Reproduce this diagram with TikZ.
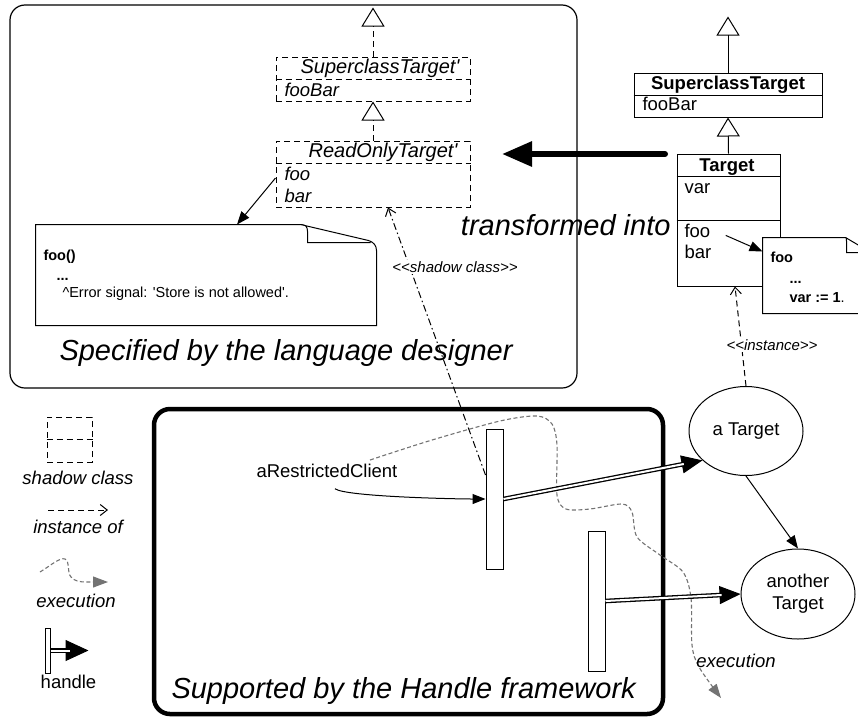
\documentclass[tikz,border=0pt]{standalone}
\usepackage{fontspec}
\setmainfont{Liberation Sans}[Ligatures=TeXOff]
\usetikzlibrary{arrows.meta}
\usetikzlibrary{shapes.geometric}

\begin{document}
\begin{tikzpicture}[x=1pt,y=-1pt,line width=1pt,
    shadowbox/.style={draw,dash pattern=on 6pt off 4pt,inner sep=0pt},
    classbox/.style={draw,inner sep=0pt},
    notebox/.style={inner sep=0pt},
    handlebox/.style={draw,fill=white,inner sep=0pt,minimum width=17pt,minimum height=140pt},
    objnode/.style={draw,ellipse,inner sep=0pt,minimum width=114pt,minimum height=89pt,align=center,font=\fontsize{18.5}{22}\selectfont},
    lbl/.style={inner sep=0pt,font=\fontsize{18.5}{22}\selectfont},
    ilbl/.style={inner sep=0pt,font=\fontsize{18.5}{22}\selectfont\itshape},
    blbl/.style={inner sep=0pt,font=\fontsize{18.5}{22}\selectfont\bfseries},
    shtitle/.style={inner sep=0pt,font=\fontsize{20}{24}\selectfont\itshape},
    small/.style={inner sep=0pt,font=\fontsize{14.5}{17}\selectfont},
    smallb/.style={inner sep=0pt,font=\fontsize{14.5}{17}\selectfont\bfseries},
    stereo/.style={inner sep=1.5pt,fill=white,font=\fontsize{15}{18}\selectfont\itshape},
    title/.style={inner sep=0pt,font=\fontsize{29}{34}\selectfont\itshape},
    generalize/.style={-{Triangle[open,length=19pt,width=23pt]}},
    instof/.style={dash pattern=on 6pt off 4pt,-{Straight Barb[length=7pt,width=11pt]}},
    execpath/.style={black!55,line width=1.1pt,dash pattern=on 4pt off 2.5pt,-{Triangle[length=14pt,width=10pt]}},
    handlearrow/.style={-{Triangle[length=21pt,width=18pt]},
        postaction={draw,-,double,double distance=2pt,line width=1.3pt,shorten >=19pt}},
    msg/.style={-{Triangle[length=13pt,width=10pt]}}]
\useasboundingbox (0,0) rectangle (858,718);

\draw[line width=1.2pt,rounded corners=15pt] (10,5) rectangle (577,388);
\node[title,anchor=base west] (langtitle) at (59,360) {Specified by the language designer};
\draw[line width=4.5pt,rounded corners=16pt] (154,409) rectangle (663,714);
\node[title,anchor=base west] (hdltitle) at (171,698) {Supported by the Handle framework};

\node[shadowbox,minimum width=194pt,minimum height=44pt] (shsup) at (373,79) {};
\draw[dash pattern=on 6pt off 4pt] (shsup.west) -- (shsup.east);
\node[shtitle,anchor=base] (shsupname) at (380,73) {SuperclassTarget'};
\node[ilbl,anchor=base west] (shfoobar) at (284,96) {fooBar};
\node[shadowbox,minimum width=194pt,minimum height=66pt] (shro) at (373,174) {};
\draw[dash pattern=on 6pt off 4pt] ([yshift=11pt]shro.west) -- ([yshift=11pt]shro.east);
\node[shtitle,anchor=base] (shroname) at (383,157) {ReadOnlyTarget'};
\node[ilbl,anchor=base west] (shfoo) at (284,180) {foo};
\node[ilbl,anchor=base west] (shbar) at (284,202) {bar};
\draw[dash pattern=on 6pt off 4pt,generalize] (shsup.north) -- ++(0,-49);
\draw[dash pattern=on 6pt off 4pt,generalize] (shro.north) -- (shsup.south);

\node[notebox,minimum width=340pt,minimum height=100pt] (errnote) at (206,275) {};
\draw[shift={(errnote.north east)}] (-76,0) -- (-8,16) .. controls (-3,17.5) and (0,21) .. (0,26)
    -- (errnote.south east) -- (errnote.south west) -- (errnote.north west) -- (-76,0)
    .. controls (-71,0) and (-69,2) .. (-69,7) -- (-69,18) -- (-6,18);
\node[smallb,anchor=base west] (errfoo) at (43,260) {foo()};
\node[smallb,anchor=base west] (errdots) at (56,280) {...};
\node[small,anchor=base west] (errmsg) at (62,297) {\textasciicircum Error signal: 'Store is not allowed'.};
\draw[msg] ([yshift=-4pt]shro.west) -- ([xshift=31pt]errnote.north);

\node[classbox,minimum width=188pt,minimum height=44pt] (sup) at (728,95) {};
\draw (sup.west) -- (sup.east);
\node[blbl,anchor=base] (supname) at (728,89) {SuperclassTarget};
\node[lbl,anchor=base west] (supfoobar) at (642,110) {fooBar};
\node[classbox,minimum width=103pt,minimum height=132pt] (tgt) at (728.5,220) {};
\draw ([yshift=44pt]tgt.west) -- ([yshift=44pt]tgt.east);
\draw (tgt.west) -- (tgt.east);
\node[blbl,anchor=base] (tgtname) at (727,171) {Target};
\node[lbl,anchor=base west] (tvar) at (684,193) {var};
\node[lbl,anchor=base west] (tfoo) at (684,237) {foo};
\node[lbl,anchor=base west] (tbar) at (684,258) {bar};
\draw[generalize] (sup.north) -- ++(0,-56);
\draw[generalize] (tgt.north) -- (sup.south);

\node[notebox,minimum width=112pt,minimum height=75pt] (foonote) at (819,275.5) {};
\filldraw[fill=white,shift={(foonote.north east)}] (-30,0) -- (-8,13) .. controls (-3,15) and (0,17) .. (0,21)
    -- (foonote.south east) -- (foonote.south west) -- (foonote.north west) -- cycle;
\draw[shift={(foonote.north east)}] (-30,0) .. controls (-29,0) and (-29,1) .. (-29,4) -- (-29,15) -- (-6,15);
\node[smallb,anchor=base west] (nfoo) at (770,262) {foo};
\node[smallb,anchor=base west] (ndots) at (789,283) {...};
\node[smallb,anchor=base west] (nvar) at (789,302) {var := 1\textmd{.}};
\draw[msg] ([xshift=15pt,yshift=-5pt]tfoo.east) -- ([yshift=-14pt]foonote.north west);

\coordinate (xfrom) at (665,154);
\coordinate (xto) at (502,154);
\draw[line width=6pt,line cap=round,-{Triangle[length=30pt,width=24pt]}] (xfrom) -- (xto);
\node[title,anchor=base east] (xlabel) at (671,235) {transformed into};

\node[objnode] (atgt) at (746,431) {a Target};
\node[objnode,minimum height=90pt] (another) at (798,594) {another\\Target};
\draw[instof] (atgt.north) -- ([xshift=6.5pt]tgt.south);
\node[stereo] (instlbl) at (772,345) {<<instance>>};
\draw[msg] (atgt.south) -- (another.north);

\node[handlebox] (hdlA) at (494.5,499) {};
\node[handlebox] (hdlB) at (596.5,601) {};
\node[lbl,anchor=base west] (client) at (256,477) {aRestrictedClient};
\coordinate (execA) at (370,460);
\coordinate (execB) at (721,698);
\draw[execpath] plot[smooth,tension=0.5] coordinates {(execA) (432,440) (500,421) (537,416) (552,424) (557,445) (557,495) (566,509) (590,509) (622,504) (632,512) (637,537) (660,555) (683,572) (691,598) (692,645) (699,667) (execB)};
\node[ilbl,anchor=base] (execlbl) at (736,667) {execution};
\draw[dash pattern=on 7pt off 3pt on 1.5pt off 3pt,-{Straight Barb[length=7pt,width=11pt]}] ([yshift=24pt]hdlA.west) -- ([xshift=15pt]shro.south);
\node[stereo] (shlbl) at (455,267) {<<shadow class>>};
\draw[msg] ([xshift=8pt,yshift=-11pt]client.south) .. controls +(10,8) and +(-30,0) .. (hdlA.west);
\draw[handlearrow] (hdlA.east) -- (atgt.214);
\draw[handlearrow] (hdlB.east) -- (another.180);

\node[shadowbox,minimum width=45pt,minimum height=45pt] (lgshadow) at (69.5,439.5) {};
\draw[dash pattern=on 6pt off 4pt] (lgshadow.west) -- (lgshadow.east);
\node[ilbl,anchor=base] (lgshadowlbl) at (78,484) {shadow class};
\coordinate (lgA) at (48,510);
\coordinate (lgB) at (108,510);
\draw[instof] (lgA) -- (lgB);
\node[ilbl,anchor=base] (lginstlbl) at (78,533) {instance of};
\coordinate (lgC) at (40,572);
\coordinate (lgD) at (108,582);
\draw[execpath,-{Triangle[length=15pt,width=11pt]}] (lgC) .. controls (50,566) and (60,557) .. (65,559)
    .. controls (70,561) and (67,573) .. (71,577) .. controls (74,581) and (80,582) .. (86,582) -- (lgD);
\node[ilbl,anchor=base] (lgexeclbl) at (76,607) {execution};
\node[handlebox,minimum width=5pt,minimum height=45pt] (lghandle) at (47.5,650.5) {};
\draw[handlearrow,-{Triangle[length=23pt,width=21pt]}] (lghandle.east) -- ++(38,0);
\node[lbl,anchor=base] (lghandlelbl) at (68.5,688) {handle};
\end{tikzpicture}
\end{document}
